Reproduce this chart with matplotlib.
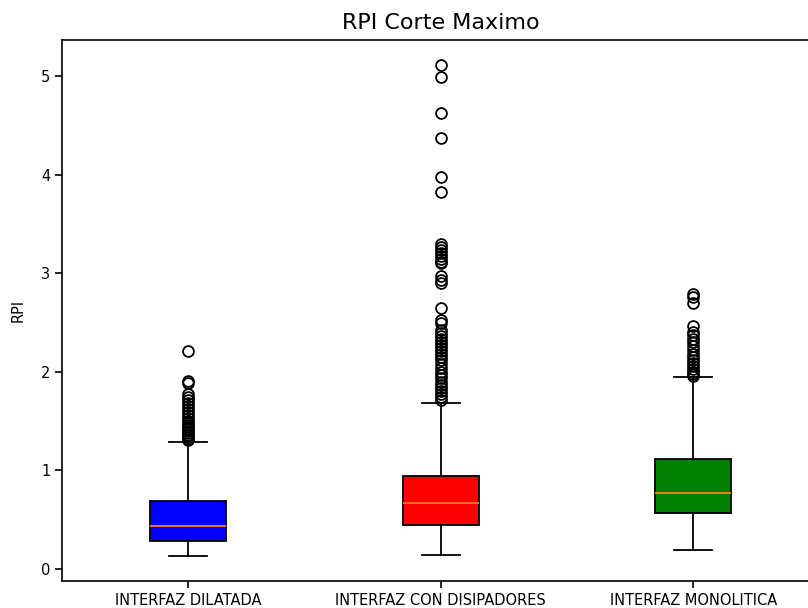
import matplotlib
matplotlib.use("Agg")
import matplotlib.pyplot as plt

# Summary statistics of RPI (maximum shear) for each interface type
categories = ["INTERFAZ DILATADA", "INTERFAZ CON DISIPADORES", "INTERFAZ MONOLITICA"]
box_colors = ["blue", "red", "green"]

q1_vals = [0.283, 0.442, 0.570]
med_vals = [0.432, 0.668, 0.773]
q3_vals = [0.688, 0.938, 1.118]
whislo_vals = [0.128, 0.138, 0.188]
whishi_vals = [1.283, 1.685, 1.944]

fliers_dilatada = [2.21, 1.91, 1.89, 1.77, 1.74, 1.71, 1.68, 1.65, 1.62, 1.59,
                   1.56, 1.53, 1.50, 1.48, 1.46, 1.44, 1.42, 1.40, 1.38, 1.36,
                   1.34, 1.32, 1.31]
fliers_disipadores = [5.12, 4.99, 4.63, 4.37, 3.98, 3.83, 3.30, 3.27, 3.24, 3.21,
                      3.18, 3.15, 3.12, 3.10, 2.97, 2.93, 2.90, 2.65, 2.53, 2.50,
                      2.42, 2.39, 2.36, 2.33, 2.30, 2.27, 2.24, 2.21, 2.18, 2.15,
                      2.12, 2.08, 2.04, 2.00, 1.97, 1.94, 1.90, 1.87, 1.84, 1.80,
                      1.77, 1.74, 1.71]
fliers_monolitica = [2.79, 2.76, 2.70, 2.47, 2.40, 2.37, 2.33, 2.30, 2.26, 2.22,
                     2.18, 2.15, 2.12, 2.09, 2.06, 2.03, 2.00, 1.98, 1.96]
fliers_all = [fliers_dilatada, fliers_disipadores, fliers_monolitica]

stats = []
for i, name in enumerate(categories):
    stats.append({
        "label": name,
        "q1": q1_vals[i],
        "med": med_vals[i],
        "q3": q3_vals[i],
        "whislo": whislo_vals[i],
        "whishi": whishi_vals[i],
        "fliers": fliers_all[i],
    })

plt.rcParams["font.family"] = ["DejaVu Sans"]
plt.rcParams["axes.linewidth"] = 1.2

fig = plt.figure(figsize=(8.08, 6.08), dpi=100)
ax = fig.add_axes([62 / 808, (608 - 580.7) / 608, (819.5 - 62) / 808, (580.7 - 40) / 608])

lw = 1.3
bp = ax.bxp(
    stats,
    positions=[1, 2, 3],
    widths=0.3,
    patch_artist=True,
    boxprops=dict(linewidth=lw, edgecolor="black"),
    whiskerprops=dict(linewidth=lw, color="black"),
    capprops=dict(linewidth=lw, color="black"),
    medianprops=dict(linewidth=lw, color="#ff7f0e"),
    flierprops=dict(marker="o", markersize=7.8, markeredgewidth=1.3,
                    markerfacecolor="none", markeredgecolor="black"),
)
for patch, c in zip(bp["boxes"], box_colors):
    patch.set_facecolor(c)

ax.set_xlim(0.5, 3.5)
ax.set_title("RPI Corte Maximo", fontsize=16, pad=8)
ax.set_ylabel("RPI", fontsize=10.5, labelpad=11)
ax.tick_params(axis="both", labelsize=10.5, length=5, width=1.2)
ax.set_yticks([0, 1, 2, 3, 4, 5])

fig.savefig("out.png", dpi=100)
